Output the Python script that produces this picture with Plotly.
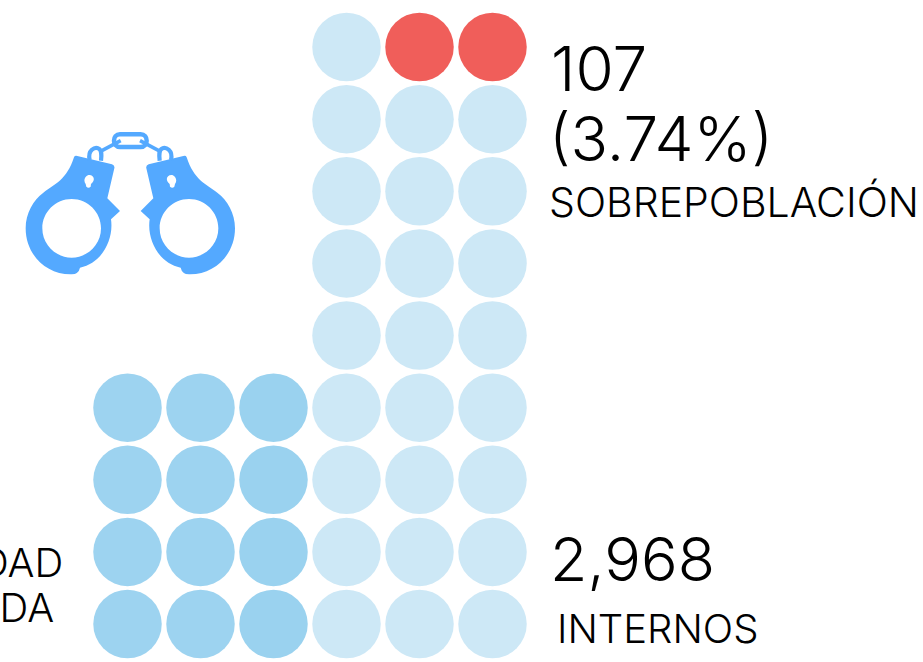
import plotly.graph_objects as go

# --- data -------------------------------------------------------------
capacidad_cols = [1, 1, 1, 1, 2, 2, 2, 2]
capacidad_rows = [1, 2, 3, 4, 1, 2, 3, 4]
capacidad_c3_cols = [3, 3, 3, 3]
capacidad_c3_rows = [1, 2, 3, 4]
internos_cols = [4] * 9 + [5] * 8 + [6] * 8
internos_rows = list(range(1, 10)) + list(range(1, 9)) + list(range(1, 9))
sobre_cols = [5, 6]
sobre_rows = [9, 9]

labels = ["107", "(3.74%)", "SOBREPOBLACIÓN", "2,968", "INTERNOS", "CAPACIDAD", "INSTALADA"]

W, H = 923, 662
FONT = "Inter"
DOT = 68.5


def px(x):
    return x / W


def py(y):
    return 1 - y / H


def zoomed(path, mirror=False):
    """Turn icon outline tokens (in icon units) into paper coordinates."""
    out = []
    for tok in path:
        if isinstance(tok, str):
            out.append(tok)
        else:
            zx, zy = tok
            if mirror:
                zx = 782 - zx
            out.append(f"{px(zx / 3):.5f},{py(100 + zy / 3):.5f}")
    return " ".join(out)


def circle(cx, cy, r):
    k = 0.5523 * r
    return ["M", (cx + r, cy),
            "C", (cx + r, cy + k), (cx + k, cy + r), (cx, cy + r),
            "C", (cx - k, cy + r), (cx - r, cy + k), (cx - r, cy),
            "C", (cx - r, cy - k), (cx - k, cy - r), (cx, cy - r),
            "C", (cx + k, cy - r), (cx + r, cy - k), (cx + r, cy), "Z"]


body = ["M", (222, 172), "Q", (224, 166), (232, 168),
        "L", (336, 193), "Q", (345, 196), (343, 205),
        "L", (322, 295), "L", (360, 333), "L", (333, 358),
        "C", (342, 420), (305, 490), (240, 503),
        "Q", (236, 522), (215, 523),
        "C", (140, 525), (77, 465), (77, 385),
        "C", (77, 340), (100, 300), (130, 278),
        "C", (165, 252), (200, 240), (222, 172), "Z"]
keyhole = ["M", (257, 252),
           "C", (248, 240), (257, 225), (268, 225),
           "C", (281, 225), (288, 240), (273, 252),
           "L", (272, 260), "Q", (265, 266), (259, 260), "Z"]
cuff = body + circle(215, 385, 88) + keyhole
shackle = ["M", (269, 180), "C", (262, 150), (285, 140), (295, 145),
           "C", (306, 150), (305, 165), (303, 182)]
chain = ["M", (300, 155), "L", (362, 122)]
link = ["M", (360, 103), "L", (422, 103), "C", (446, 103), (446, 141), (422, 141),
        "L", (360, 141), "C", (336, 141), (336, 103), (360, 103), "Z"]

BLUE = "#54A9FF"
shapes = []
for m in (False, True):
    shapes.append(dict(type="path", xref="paper", yref="paper", path=zoomed(cuff, m),
                       fillcolor=BLUE, line=dict(width=0)))
    for p, w in ((shackle, 4.2), (chain, 3.5)):
        shapes.append(dict(type="path", xref="paper", yref="paper", path=zoomed(p, m),
                           line=dict(color=BLUE, width=w)))
shapes.append(dict(type="path", xref="paper", yref="paper", path=zoomed(link),
                   line=dict(color=BLUE, width=4.5)))

fig = go.Figure()
for xs, ys, col, name in (
    (capacidad_cols, capacidad_rows, "#9DD3F0", "Capacidad instalada"),
    (capacidad_c3_cols, capacidad_c3_rows, "#9AD2EF", "Capacidad instalada"),
    (internos_cols, internos_rows, "#CDE8F6", "Internos"),
    (sobre_cols, sobre_rows, "#F05E5A", "Sobrepoblación"),
):
    fig.add_trace(go.Scatter(x=xs, y=ys, mode="markers", name=name, showlegend=False,
                             hoverinfo="skip",
                             marker=dict(size=DOT, color=col, line=dict(width=0))))


def note(text, x, y, size, anchor="left"):
    return dict(text=text, xref="paper", yref="paper", x=px(x), y=py(y), xanchor=anchor,
                yanchor="middle", showarrow=False, borderpad=0,
                font=dict(family=FONT, size=size, color="#000000", weight=300))


annotations = [
    note(labels[0], 550, 69, 62),
    note(labels[1], 548, 138, 62),
    note(labels[2], 548, 202, 41),
    note(labels[3], 549, 559, 61),
    note(labels[4], 556, 628, 40),
    note(labels[5], 64, 562, 40, "right"),
    note(labels[6], 55, 607, 40, "right"),
]

fig.update_layout(
    width=W, height=H, autosize=False,
    margin=dict(l=0, r=0, t=0, b=0),
    paper_bgcolor="white", plot_bgcolor="white",
    xaxis=dict(range=[1 - 127.5 / 73, 1 + (W - 127.5) / 73], visible=False, fixedrange=True),
    yaxis=dict(range=[1 - (H - 624) / 72.125, 1 + 624 / 72.125], visible=False, fixedrange=True),
    shapes=shapes, annotations=annotations,
)
fig.write_html("out.html", config=dict(displayModeBar=False, responsive=False),
               post_script="document.body.style.margin='0';document.documentElement.style.overflow='hidden';")
